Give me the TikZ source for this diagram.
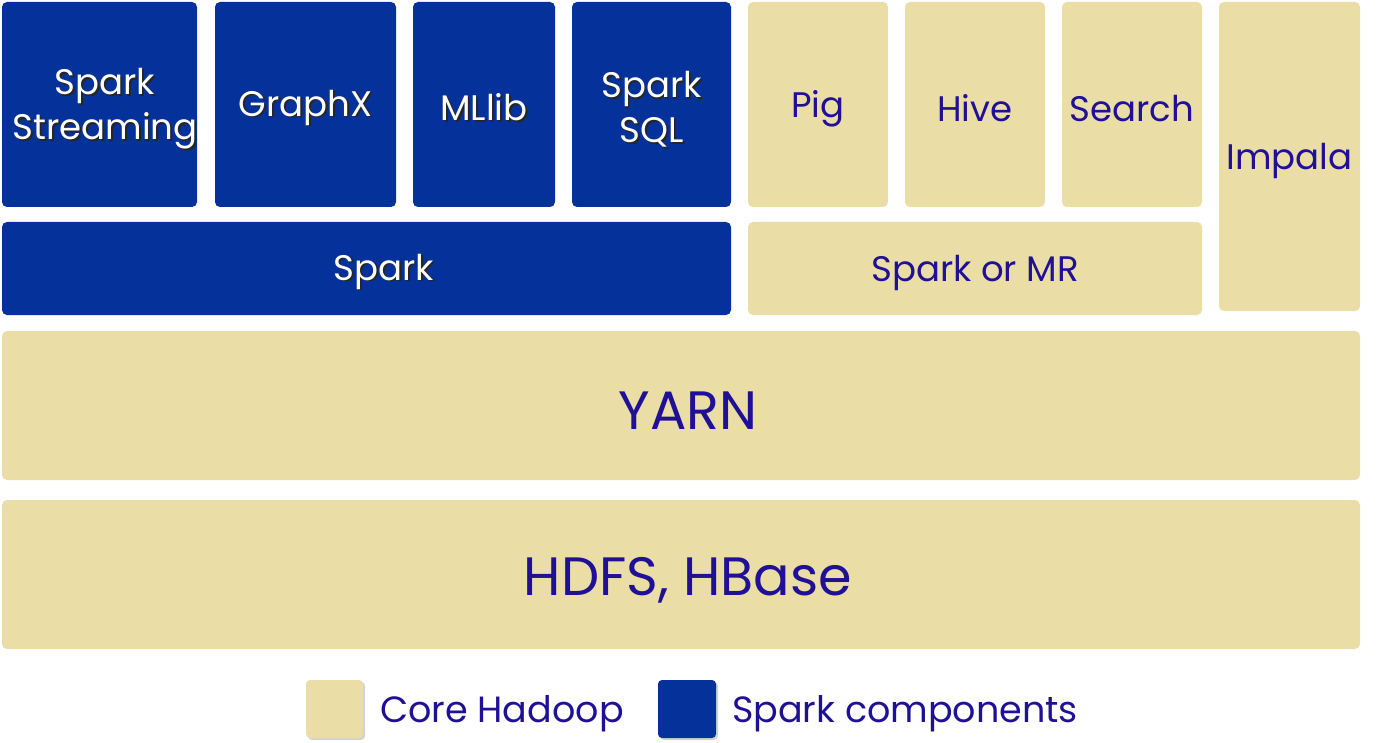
\documentclass[tikz,border=0pt]{standalone}
\usepackage{fontspec}
\setmainfont{Poppins}
\usetikzlibrary{shadows}
\definecolor{sblue}{HTML}{05329A}
\definecolor{htan}{HTML}{EBDDA6}
\definecolor{htext}{HTML}{1F1096}
\newcommand\shtext[1]{\makebox[0pt][l]{\raisebox{-1.8pt}{\kern1.8pt\textcolor{black!85}{#1}}}#1}
\tikzset{
  blk/.style={fill=sblue, rounded corners=5pt, text=white, align=center, font=\fontsize{35.5}{44}\selectfont},
  tan/.style={fill=htan, rounded corners=5pt, text=htext, align=center, font=\fontsize{35.5}{44}\selectfont},
  big/.style={font=\fontsize{54}{60}\selectfont},
  legbox/.style={rounded corners=4pt, drop shadow={shadow xshift=2pt, shadow yshift=-2pt, opacity=0.35}},
  legtext/.style={text=htext, anchor=west, font=\fontsize{36.5}{42}\selectfont, inner sep=0pt},
}
\begin{document}
\begin{tikzpicture}[x=1pt,y=-1pt]
\useasboundingbox (0,0) rectangle (1378,743);
% top row
\path[blk] (2,2) rectangle (197,207);
\node[blk,fill=none] (ss) at (105,110) {\shtext{Spark}\\[1pt]\shtext{Streaming}};
\path[blk] (215,2) rectangle (396,207);
\node[blk,fill=none] (gx) at (305.5,108.5) {\shtext{GraphX}};
\path[blk] (413,2) rectangle (555,207);
\node[blk,fill=none] (ml) at (484,108.5) {\shtext{MLlib}};
\path[blk] (572,2) rectangle (731,207);
\node[blk,fill=none] (sql) at (651.5,110) {\shtext{Spark}\\[1pt]\shtext{SQL}};
\path[tan] (748,2) rectangle (888,207);
\node[tan,fill=none] (pig) at (818,108.5) {Pig};
\path[tan] (905,2) rectangle (1045,207);
\node[tan,fill=none] (hive) at (975,108.5) {Hive};
\path[tan] (1062,2) rectangle (1202,207);
\node[tan,fill=none] (search) at (1132,108.5) {Search};
\path[tan] (1219,2) rectangle (1360,311);
\node[tan,fill=none] (impala) at (1289.5,160.5) {Impala};
% second row
\path[blk] (2,222) rectangle (731,315);
\node[blk,fill=none] (spark) at (384,272.5) {\shtext{Spark}};
\path[tan] (748,222) rectangle (1202,315);
\node[tan,fill=none] (smr) at (975,272.5) {Spark or MR};
% YARN and HDFS
\path[tan] (2,331) rectangle (1360,480);
\node[tan,big,fill=none] (yarn) at (688,410.5) {YARN};
\path[tan] (2,500) rectangle (1360,649);
\node[tan,big,fill=none] (hdfs) at (688,580.5) {HDFS, HBase};
% legend
\path[legbox,fill=htan] (306,680) rectangle (363,738);
\node[legtext] (lcore) at (380,714) {Core Hadoop};
\path[legbox,fill=sblue] (658,680) rectangle (716,738);
\node[legtext] (lspark) at (732,714) {Spark components};
\end{tikzpicture}
\end{document}
